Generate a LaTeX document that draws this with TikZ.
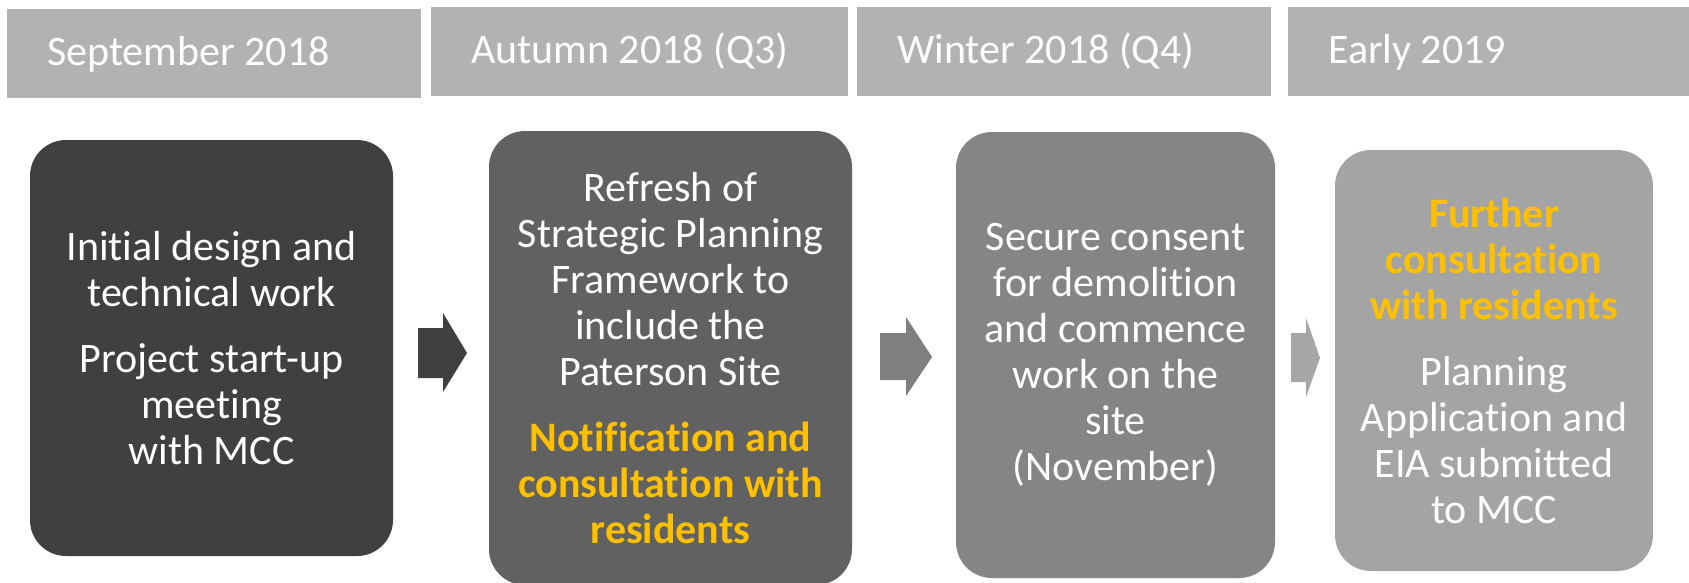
\documentclass[tikz,border=0pt]{standalone}
\usepackage{fontspec}
\setmainfont{Carlito}[Ligatures={NoCommon,NoRare,NoContextual}]
\definecolor{hdr}{HTML}{B2B2B2}
\definecolor{cA}{HTML}{404040}
\definecolor{cB}{HTML}{616161}
\definecolor{cC}{HTML}{858585}
\definecolor{cD}{HTML}{A4A4A4}
\definecolor{aB}{HTML}{7F7F7F}
\definecolor{aC}{HTML}{A6A6A6}
\definecolor{yel}{HTML}{FFC000}
\newcommand{\Y}[1]{\textcolor{yel}{\textbf{#1}}}
\tikzset{
  hdrbox/.style={fill=hdr, draw=none, inner sep=0pt, anchor=north west},
  hdrtxt/.style={text=white, inner sep=0pt, anchor=base west, font=\fontsize{42}{46}\selectfont},
  stagebox/.style={draw=none, rounded corners=36pt, text=white, align=center, inner sep=0pt,
    font=\fontsize{42}{46}\selectfont},
}
\begin{document}
\begin{tikzpicture}[x=1pt,y=-1pt]
\useasboundingbox (0,0) rectangle (1689,582);
% header bars
\node[hdrbox, minimum width=414pt, minimum height=89pt] (h1) at (7,9) {};
\node[hdrbox, minimum width=417pt, minimum height=89pt] (h2) at (431,7) {};
\node[hdrbox, minimum width=414pt, minimum height=89pt] (h3) at (857,7) {};
\node[hdrbox, minimum width=402pt, minimum height=89pt] (h4) at (1288,7) {};
\node[hdrtxt] (t1) at (47,65) {September 2018};
\node[hdrtxt] (t2) at (471,63) {Autumn 2018 (Q3)};
\node[hdrtxt] (t3) at (897,63) {Winter 2018 (Q4)};
\node[hdrtxt] (t4) at (1328,63) {Early 2019};
% stage boxes
\node[stagebox, fill=cA, minimum width=363pt, minimum height=416pt] (b1) at (211.5,348)
  {Initial design and\\technical work\\[20pt]Project start-up\\meeting\\with MCC};
\node[stagebox, fill=cB, minimum width=363pt, minimum height=454pt] (b2) at (670.5,358)
  {Refresh of\\Strategic Planning\\Framework to\\include the\\Paterson Site\\[20pt]\Y{Notification and}\\\Y{consultation with}\\\Y{residents}};
\node[stagebox, fill=cC, minimum width=319pt, minimum height=446pt] (b3) at (1115.5,355)
  {Secure consent\\for demolition\\and commence\\work on the\\site\\(November)};
\node[stagebox, fill=cD, minimum width=318pt, minimum height=421pt] (b4) at (1494,360.5)
  {\Y{Further}\\\Y{consultation}\\\Y{with residents}\\[20pt]Planning\\Application and\\EIA submitted\\to MCC};
% block arrows
\fill[cA] (418,328) -- (443,328) -- (443,313) -- (467,353) -- (443,392) -- (443,378) -- (418,378) -- cycle;
\fill[aB] (880,333) -- (906,333) -- (906,317) -- (932,357) -- (906,396) -- (906,380) -- (880,380) -- cycle;
\fill[aC] (1291,333) -- (1306,333) -- (1306,318) -- (1320,358) -- (1306,397) -- (1306,382) -- (1291,382) -- cycle;
\end{tikzpicture}
\end{document}
